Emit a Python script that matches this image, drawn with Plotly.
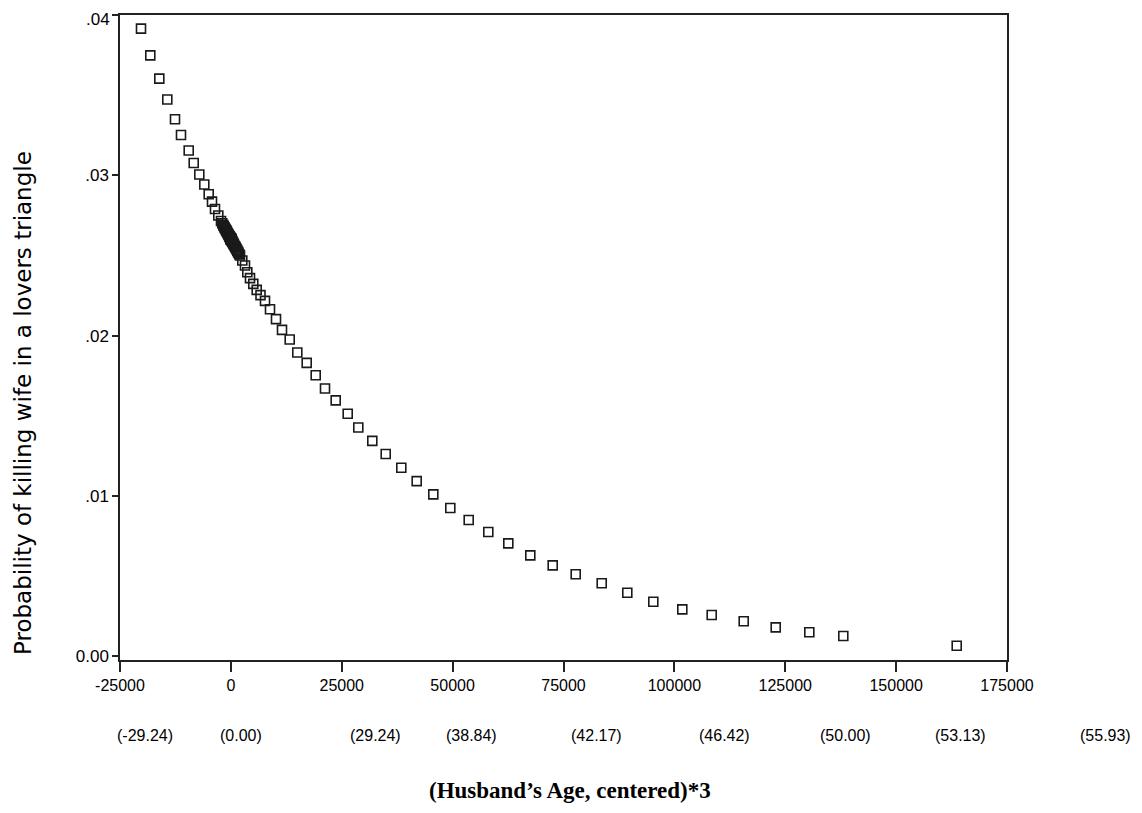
import plotly.graph_objects as go

# Cubed centered husband's age (x) and predicted probability (y)
age_cubed = [-20265, -18168, -16139, -14335, -12599, -11246, -9510, -8382, -7119, -5992,
             -5000, -4256, -3579, -2835, -2227, -1950,
             -1728, -1600, -1450, -1331, -1200, -1080, -1000, -870, -729, -620, -512, -420,
             -343, -270, -216, -160, -125, -90, -64, -40, -27, -15, -8, -1, 0,
             1, 8, 15, 27, 40, 64, 90, 125, 160, 216, 270, 343, 420, 512, 620, 729, 870,
             1000, 1080, 1200, 1331, 1450, 1600, 1728, 1900,
             2058, 2576, 3185, 3704, 4312, 5056, 5823, 6680, 7695, 8822,
             10175, 11528, 13264, 14978, 17097, 19126, 21223, 23636, 26342, 28732,
             31889, 34910, 38428, 41900, 45643, 49476, 53625, 58044, 62554, 67515,
             72565, 77751, 83614, 89386, 95248, 101787, 108417, 115632, 122847, 130424,
             138090, 163661]
probability = [0.03917, 0.03750, 0.03605, 0.03474, 0.03351, 0.03253, 0.03156, 0.03078, 0.03006, 0.02944,
               0.02883, 0.02837, 0.02791, 0.02750, 0.02716, 0.02702,
               0.02691, 0.02685, 0.02677, 0.02671, 0.02664, 0.02658, 0.02654, 0.02648, 0.02641, 0.02635, 0.02630, 0.02625,
               0.02621, 0.02618, 0.02615, 0.02612, 0.02610, 0.02609, 0.02607, 0.02606, 0.02605, 0.02605, 0.02604, 0.02604, 0.02604,
               0.02604, 0.02604, 0.02603, 0.02603, 0.02602, 0.02601, 0.02600, 0.02598, 0.02596, 0.02593, 0.02590, 0.02587, 0.02583, 0.02578, 0.02573, 0.02567, 0.02560,
               0.02554, 0.02550, 0.02544, 0.02537, 0.02531, 0.02523, 0.02517, 0.02508,
               0.02500, 0.02469, 0.02438, 0.02396, 0.02359, 0.02323, 0.02286, 0.02253, 0.02217, 0.02165,
               0.02103, 0.02036, 0.01976, 0.01895, 0.01830, 0.01753, 0.01670, 0.01596, 0.01512, 0.01427,
               0.01343, 0.01261, 0.01175, 0.01092, 0.01009, 0.00924, 0.00849, 0.00774, 0.00703, 0.00628,
               0.00566, 0.00510, 0.00454, 0.00395, 0.00339, 0.00291, 0.00256, 0.00217, 0.00179, 0.00148,
               0.00125, 0.00064]

x_tick_vals = [-25000, 0, 25000, 50000, 75000, 100000, 125000, 150000, 175000]
x_tick_text = ["-25000", "0", "25000", "50000", "75000", "100000", "125000", "150000", "175000"]
y_tick_vals = [0.0, 0.01, 0.02, 0.03, 0.04]
y_tick_text = ["0.00", ".01", ".02", ".03", ".04"]
age_labels = ["(-29.24)", "(0.00)", "(29.24)", "(38.84)", "(42.17)", "(46.42)", "(50.00)", "(53.13)", "(55.93)"]
age_label_px = [145, 241, 375, 471, 596, 724, 845, 960, 1105]

OFF = 8  # page body margin
W, H = 1142 - 2 * OFF, 813 - 2 * OFF
PL, PR, PT, PB = 120, 1007, 15, 660  # target plot box in page pixels
L, T = PL - OFF, PT - OFF
plot_w, plot_h = PR - PL, PB - PT
R = W - L - plot_w
B = H - T - plot_h


def px_x(px):
    return (px - PL) / plot_w


def px_y(py):
    return (PB - py) / plot_h


sans = "Liberation Sans, Arial, sans-serif"

fig = go.Figure()
fig.add_trace(go.Scatter(
    x=age_cubed, y=probability, mode="markers",
    marker=dict(symbol="square-open", size=9, color="#1a1a1a", line=dict(width=1.6, color="#1a1a1a")),
    showlegend=False, hoverinfo="x+y", cliponaxis=False,
))

annotations = []
for lab, px in zip(age_labels, age_label_px):
    annotations.append(dict(
        text=lab, x=px_x(px), y=px_y(735), xref="paper", yref="paper",
        xanchor="center", yanchor="middle", showarrow=False,
        font=dict(family=sans, size=16, color="black"),
    ))
annotations.append(dict(
    text="<b>(Husband\u2019s Age, centered)*3</b>", x=px_x(570), y=px_y(790),
    xref="paper", yref="paper", xanchor="center", yanchor="middle", showarrow=False,
    font=dict(family="Liberation Serif, Times New Roman, serif", size=23, color="black"),
))
annotations.append(dict(
    text="Probability of killing wife in a lovers triangle", x=px_x(23), y=px_y(403),
    xref="paper", yref="paper", xanchor="center", yanchor="middle", showarrow=False, textangle=-90,
    font=dict(family="DejaVu Sans, sans-serif", size=23, color="black"),
))
# the top tick label would be hidden by plotly at the figure edge, so it is drawn as text
annotations.append(dict(
    text=y_tick_text[-1], x=0, y=1, xref="paper", yref="paper",
    xanchor="right", yanchor="top", xshift=-8, yshift=T, showarrow=False,
    font=dict(family=sans, size=17, color="black"),
))

fig.update_layout(
    width=W, height=H,
    margin=dict(l=L, r=R, t=T, b=B, pad=0, autoexpand=False),
    paper_bgcolor="white", plot_bgcolor="white",
    annotations=annotations,
    xaxis=dict(
        range=[-25000, 175000], tickvals=x_tick_vals, ticktext=x_tick_text, automargin=False,
        showgrid=False, zeroline=False, showline=True, linecolor="#222", linewidth=1.5, mirror=True,
        ticks="outside", ticklen=10, tickwidth=1.5, tickcolor="#222",
        tickfont=dict(family=sans, size=16, color="black"),
    ),
    yaxis=dict(
        range=[-0.00025, 0.04002], tickvals=y_tick_vals, ticktext=y_tick_text[:-1] + [""], automargin=False,
        showgrid=False, zeroline=False, showline=True, linecolor="#222", linewidth=1.5, mirror=True,
        ticks="outside", ticklen=6, tickwidth=1.5, tickcolor="#222",
        tickfont=dict(family=sans, size=17, color="black"),
    ),
)

fig.write_html("out.html")
